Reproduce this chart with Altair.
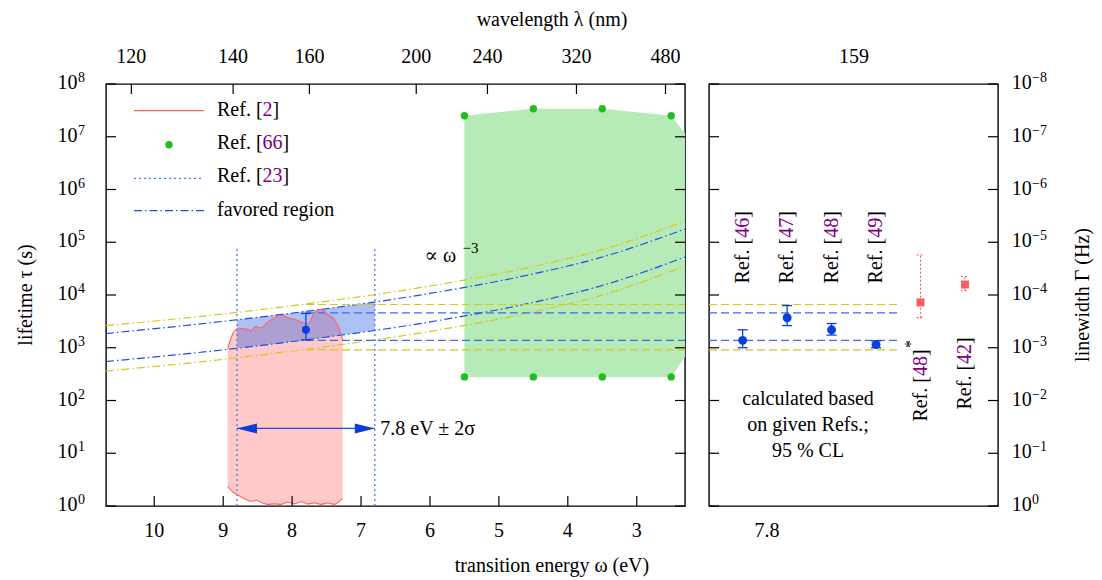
import altair as alt
import pandas as pd

# ============================================================ data
energy_ticks = [10, 9, 8, 7, 6, 5, 4, 3]                  # eV, bottom axis
wavelength_ticks = [120, 140, 160, 200, 240, 320, 480]    # nm, top axis
decade_exponents = [0, 1, 2, 3, 4, 5, 6, 7, 8]            # lifetime decades

# Ref. [2] band (log10 of lifetime in s)
red_energy = [8.935, 8.863, 8.790, 8.694, 8.597, 8.524, 8.452, 8.354, 8.258, 8.161,
              8.064, 7.968, 7.871, 7.774, 7.677, 7.580, 7.483, 7.387, 7.314, 7.266]
red_upper_log = [2.98, 3.26, 3.36, 3.36, 3.33, 3.40, 3.38, 3.49, 3.56, 3.62,
                 3.57, 3.54, 3.49, 3.45, 3.66, 3.73, 3.63, 3.54, 3.35, 3.15]
red_lower_log = [0.37, 0.27, 0.21, 0.14, 0.09, 0.11, 0.07, 0.03, 0.04, 0.03,
                 0.07, 0.04, 0.08, 0.04, 0.06, 0.03, 0.06, 0.03, 0.09, 0.14]

# Ref. [66]
green_energy = [5.5, 4.5, 3.5, 2.5]
green_upper = [2.5e7, 3.4e7, 3.4e7, 2.5e7]
green_lower = [280, 280, 280, 280]
green_edge_energy = [2.3]
green_edge_upper = [1.15e7]
green_edge_lower = [680]

# Ref. [23]: 7.8 eV +- 2 sigma
ref23_center = 7.8
ref23_limits = [8.8, 6.8]
ref23_line_top = 8.0e4
arrow_tau = 29.5

# omega^-3 lines (log10 of lifetime)
curve_energy = [10.7, 9.0, 7.8, 6.0, 4.5, 3.5, 2.3]
yellow_upper_log = [3.42, 3.64, 3.83, 4.17, 4.54, 4.86, 5.40]
blue_upper_log = [3.27, 3.50, 3.69, 4.03, 4.40, 4.72, 5.25]
blue_lower_log = [2.74, 2.96, 3.15, 3.49, 3.86, 4.18, 4.72]
yellow_lower_log = [2.56, 2.78, 2.97, 3.31, 3.68, 4.00, 4.55]

# favored region (filled band)
favored_energy = [8.8, 7.8, 6.8]
favored_upper = [3400, 4900, 7400]
favored_lower = [980, 1410, 2140]

# combined value at 7.8 eV
mean_tau = [2190]
mean_lo = [1410]
mean_hi = [4470]

# horizontal levels
level_tau = [6600, 4570, 1380, 910]
level_kind = ["yellow dashed", "blue dashed", "blue dashed", "yellow dashed"]

# right panel
ref_numbers = ["46", "47", "48", "49", "48", "42"]
blue_tau = [1380, 3700, 2190, 1150]
blue_lo = [1000, 2630, 1740, 1000]
blue_hi = [2190, 6310, 2880, 1350]
red_tau = [7240, 15800]
red_lo = [3720, 12000]
red_hi = [57500, 22400]

# ============================================================ style
FONT = "Liberation Serif, DejaVu Serif, serif"
FS = 20
W1, W2, H = 579, 289, 422
PURPLE = "#800080"
RED_LINE = "#ff6262"
RED_FILL = "#ffc9c9"
GREEN_FILL = "#b6eab6"
GREEN = "#22bb22"
BLUE_FILL = "#2a5be6"
BLUE_PT = "#0b3fdc"
BLUE_DD = "#1a4fe6"
BLUE_DASH = "#3c6ee6"
DOT_BLUE = "#4a7bea"
YELLOW = "#d4c81c"
RED_PT = "#ff5c5c"
DASHDOT = [8, 3, 1.5, 3]
DASH = [8, 4]
DOT = [2, 3]

XL = alt.Scale(domain=[2.3, 10.7], reverse=True, nice=False, zero=False)
XR = alt.Scale(domain=[-0.757, 5.743], nice=False, zero=False)
YS = alt.Scale(type="log", domain=[1, 1e8], nice=False)
KIND = alt.Scale(domain=["yellow dashdot", "blue dashdot", "yellow dashed", "blue dashed"],
                 range=[YELLOW, BLUE_DD, YELLOW, BLUE_DASH])
ONE = pd.DataFrame({"k": [0]})
CHARW = {"R": .667, "e": .444, "f": .333, ".": .25, " ": .25, "[": .333, "]": .333}


def tw(s, size=FS):
    return sum(CHARW.get(c, .5) for c in s) * size


def X(f, sc=XL):
    return alt.X(f"{f}:Q", scale=sc, axis=None)


def Y(f="tau"):
    return alt.Y(f"{f}:Q", scale=YS, axis=None)


def label(text, x, y, size=FS, color="black", align="left", baseline="alphabetic", angle=0):
    return alt.Chart(ONE).mark_text(text=text, fontSize=size, color=color, align=align,
                                    baseline=baseline, angle=angle, font=FONT).encode(
        x=alt.value(x), y=alt.value(y))


def rich(parts, x, y):
    out = []
    cx = x
    for t, c in parts:
        out.append(label(t, cx, y, color=c))
        cx += tw(t)
    return out


CAP = "M-1,0L1,0"

# ============================================================ left panel
green_df = pd.DataFrame({"E": green_energy + green_edge_energy,
                         "top": green_upper + green_edge_upper,
                         "bot": green_lower + green_edge_lower})
green_area = alt.Chart(green_df).mark_area(color=GREEN_FILL, opacity=1).encode(
    x=X("E"), y=Y("top"), y2="bot:Q")

red_df = pd.DataFrame({"E": red_energy,
                       "top": [10 ** v for v in red_upper_log],
                       "bot": [10 ** v for v in red_lower_log]})
red_area = alt.Chart(red_df).mark_area(color=RED_FILL, opacity=1, interpolate="monotone").encode(
    x=X("E"), y=Y("top"), y2="bot:Q")
red_edge_df = pd.concat([
    pd.DataFrame({"E": red_energy, "tau": red_df["top"], "edge": "top"}),
    pd.DataFrame({"E": red_energy, "tau": red_df["bot"], "edge": "bot"})])
red_edges = alt.Chart(red_edge_df).mark_line(color=RED_LINE, strokeWidth=1.1,
                                             interpolate="monotone").encode(
    x=X("E"), y=Y(), detail="edge:N")

fav_df = pd.DataFrame({"E": favored_energy, "top": favored_upper, "bot": favored_lower})
fav_area = alt.Chart(fav_df).mark_area(color=BLUE_FILL, opacity=0.38, interpolate="monotone").encode(
    x=X("E"), y=Y("top"), y2="bot:Q")

curve_rows = []
for name, kind, vals in [("yu", "yellow dashdot", yellow_upper_log),
                         ("bu", "blue dashdot", blue_upper_log),
                         ("bl", "blue dashdot", blue_lower_log),
                         ("yl", "yellow dashdot", yellow_lower_log)]:
    for e, v in zip(curve_energy, vals):
        curve_rows.append({"E": e, "tau": 10 ** v, "series": name, "kind": kind})
curves = alt.Chart(pd.DataFrame(curve_rows)).mark_line(
    strokeDash=DASHDOT, strokeWidth=1.2, interpolate="monotone").encode(
    x=X("E"), y=Y(), detail="series:N",
    color=alt.Color("kind:N", scale=KIND, legend=None))

lev_left_df = pd.DataFrame({"a": ref23_center, "b": 2.3, "tau": level_tau, "kind": level_kind})
levels_left = alt.Chart(lev_left_df).mark_rule(strokeDash=DASH, strokeWidth=1.2).encode(
    x=X("a"), x2="b:Q", y=Y(), color=alt.Color("kind:N", scale=KIND, legend=None))

ref23_df = pd.DataFrame({"E": ref23_limits, "lo": 1.0, "hi": ref23_line_top})
ref23_lines = alt.Chart(ref23_df).mark_rule(strokeDash=DOT, color=DOT_BLUE, strokeWidth=1.3).encode(
    x=X("E"), y=Y("lo"), y2="hi:Q")

arrow_df = pd.DataFrame({"a": [ref23_limits[0]], "b": [ref23_limits[1]], "tau": [arrow_tau]})
arrow_line = alt.Chart(arrow_df).mark_rule(color=BLUE_DD, strokeWidth=1.2).encode(
    x=X("a"), x2="b:Q", y=Y())
arrow_l = alt.Chart(arrow_df).mark_point(shape="M0,0L2,-0.5L2,0.5Z", size=400, filled=True,
                                         color=BLUE_PT, opacity=1).encode(x=X("a"), y=Y())
arrow_r = alt.Chart(arrow_df).mark_point(shape="M0,0L-2,-0.5L-2,0.5Z", size=400, filled=True,
                                         color=BLUE_PT, opacity=1).encode(x=X("b"), y=Y())
arrow_txt = alt.Chart(pd.DataFrame({"E": [6.72], "tau": [10 ** 1.465]})).mark_text(
    text="7.8 eV ± 2σ", font=FONT, fontSize=FS, align="left", baseline="middle").encode(
    x=X("E"), y=Y())

mean_df = pd.DataFrame({"E": [ref23_center], "tau": mean_tau, "lo": mean_lo, "hi": mean_hi})
mean_bar = alt.Chart(mean_df).mark_rule(color=BLUE_PT, strokeWidth=1.3).encode(
    x=X("E"), y=Y("lo"), y2="hi:Q")
mean_caps = alt.Chart(pd.DataFrame({"E": [ref23_center] * 2, "tau": mean_lo + mean_hi})).mark_point(
    shape=CAP, size=100, filled=False, color=BLUE_PT, strokeWidth=1.3, opacity=1).encode(
    x=X("E"), y=Y())
mean_pt = alt.Chart(mean_df).mark_circle(size=65, color=BLUE_PT, opacity=1).encode(x=X("E"), y=Y())

green_pts_df = pd.DataFrame({"E": green_energy * 2, "tau": green_upper + green_lower})
green_pts = alt.Chart(green_pts_df).mark_circle(size=55, color=GREEN, opacity=1).encode(
    x=X("E"), y=Y())

omega_df = pd.DataFrame({"E": [6.08], "tau": [10 ** 4.73]})
omega_txt = alt.Chart(omega_df).mark_text(text="∝ ω", font=FONT, fontSize=FS, align="left",
                                          baseline="middle").encode(x=X("E"), y=Y())
omega_exp = alt.Chart(omega_df).mark_text(text="−3", font=FONT, fontSize=15, align="left",
                                          baseline="middle", dx=38, dy=-8).encode(x=X("E"), y=Y())

# legend
legend = [
    alt.Chart(ONE).mark_rule(color=RED_LINE, strokeWidth=1.2).encode(
        x=alt.value(28), x2=alt.value(98), y=alt.value(26.7)),
    alt.Chart(ONE).mark_circle(size=55, color=GREEN, opacity=1).encode(
        x=alt.value(63), y=alt.value(60.7)),
    alt.Chart(ONE).mark_rule(color=DOT_BLUE, strokeWidth=1.3, strokeDash=DOT).encode(
        x=alt.value(28), x2=alt.value(98), y=alt.value(94.3)),
    alt.Chart(ONE).mark_rule(color=BLUE_DD, strokeWidth=1.3, strokeDash=DASHDOT).encode(
        x=alt.value(28), x2=alt.value(98), y=alt.value(126.7)),
]
legend += rich([("Ref. [", "black"), ("2", PURPLE), ("]", "black")], 111, 31.5)
legend += rich([("Ref. [", "black"), ("66", PURPLE), ("]", "black")], 111, 65.0)
legend += rich([("Ref. [", "black"), ("23", PURPLE), ("]", "black")], 111, 98.0)
legend += [label("favored region", 111, 131.7)]

# axes of left panel (ticks inward, labels as text)
dec_df = pd.DataFrame({"tau": [10.0 ** d for d in decade_exponents],
                       "e": [str(d) for d in decade_exponents],
                       "er": ["0" if d == 0 else "−" + str(d) for d in decade_exponents]})
en_df = pd.DataFrame({"E": energy_ticks, "lab": [str(v) for v in energy_ticks]})
wl_df = pd.DataFrame({"E": [1239.84 / w for w in wavelength_ticks],
                      "lab": [str(w) for w in wavelength_ticks]})

left_axes = [
    alt.Chart(dec_df).mark_rule(color="black", strokeWidth=1.2).encode(
        x=alt.value(0), x2=alt.value(10), y=Y()),
    alt.Chart(dec_df).mark_rule(color="black", strokeWidth=1.2).encode(
        x=alt.value(W1 - 10), x2=alt.value(W1), y=Y()),
    alt.Chart(en_df).mark_rule(color="black", strokeWidth=1.2).encode(
        x=X("E"), y=alt.value(H), y2=alt.value(H - 10)),
    alt.Chart(wl_df).mark_rule(color="black", strokeWidth=1.2).encode(
        x=X("E"), y=alt.value(0), y2=alt.value(10)),
    alt.Chart(en_df).mark_text(font=FONT, fontSize=FS, align="center", baseline="alphabetic").encode(
        x=X("E"), y=alt.value(H + 31), text="lab:N"),
    alt.Chart(wl_df).mark_text(font=FONT, fontSize=FS, align="center", baseline="alphabetic").encode(
        x=X("E"), y=alt.value(-21.5), text="lab:N"),
    alt.Chart(dec_df).mark_text(text="10", font=FONT, fontSize=FS, align="right",
                                baseline="alphabetic", dy=5).encode(x=alt.value(-28.5), y=Y()),
    alt.Chart(dec_df).mark_text(font=FONT, fontSize=14, align="left",
                                baseline="alphabetic", dy=-2).encode(x=alt.value(-28), y=Y(), text="e:N"),
    label("lifetime τ (s)", -80, H / 2, align="center", baseline="middle", angle=270),
    label("wavelength λ (nm)", 446, -58.5, align="center"),
    label("transition energy ω (eV)", 446, H + 66, align="center"),
]

left = alt.layer(
    green_area, red_area, fav_area, curves, levels_left, ref23_lines, red_edges,
    arrow_line, arrow_l, arrow_r, mean_bar, mean_caps, mean_pt, green_pts,
    omega_txt, omega_exp, arrow_txt, *legend, *left_axes
).properties(width=W1, height=H)

# ============================================================ right panel
lev_right_df = pd.DataFrame({"a": -0.757, "b": 3.5, "tau": level_tau, "kind": level_kind})
levels_right = alt.Chart(lev_right_df).mark_rule(strokeDash=DASH, strokeWidth=1.2).encode(
    x=X("a", XR), x2="b:Q", y=Y(), color=alt.Color("kind:N", scale=KIND, legend=None))

bdf = pd.DataFrame({"i": [0, 1, 2, 3], "tau": blue_tau, "lo": blue_lo, "hi": blue_hi})
bcap = pd.DataFrame({"i": [0, 1, 2, 3] * 2, "tau": blue_lo + blue_hi})
rdf = pd.DataFrame({"i": [4, 5], "tau": red_tau, "lo": red_lo, "hi": red_hi})
rcap = pd.DataFrame({"i": [4, 5] * 2, "tau": red_lo + red_hi})

blue_bars = alt.Chart(bdf).mark_rule(color=BLUE_PT, strokeWidth=1.3).encode(
    x=X("i", XR), y=Y("lo"), y2="hi:Q")
blue_caps = alt.Chart(bcap).mark_point(shape=CAP, size=100, filled=False, color=BLUE_PT,
                                       strokeWidth=1.3, opacity=1).encode(x=X("i", XR), y=Y())
blue_pts = alt.Chart(bdf).mark_circle(size=80, color=BLUE_PT, opacity=1).encode(x=X("i", XR), y=Y())
red_bars = alt.Chart(rdf).mark_rule(color=RED_PT, strokeWidth=1.1, strokeDash=[2, 2]).encode(
    x=X("i", XR), y=Y("lo"), y2="hi:Q")
red_caps = alt.Chart(rcap).mark_point(shape=CAP, size=64, filled=False, color=RED_PT,
                                      strokeWidth=1.1, strokeDash=[2, 2], opacity=1).encode(
    x=X("i", XR), y=Y())
red_pts = alt.Chart(rdf).mark_square(size=64, color=RED_PT, opacity=1).encode(x=X("i", XR), y=Y())

lab_df = pd.DataFrame({"i": list(range(6)), "num": ref_numbers,
                       "tau": [10 ** 4.22] * 4 + [10 ** 1.60, 10 ** 1.83]})
star_df = lab_df.iloc[[4]]
pre_w = tw("Ref. [")
rot = dict(font=FONT, fontSize=FS, angle=270, align="left", baseline="middle")
ref_labels = [
    alt.Chart(lab_df).mark_text(text="Ref. [", color="black", **rot).encode(x=X("i", XR), y=Y()),
    alt.Chart(lab_df).mark_text(color=PURPLE, dx=pre_w, **rot).encode(x=X("i", XR), y=Y(), text="num:N"),
    alt.Chart(lab_df).mark_text(text="]", color="black", dx=pre_w + 20, **rot).encode(x=X("i", XR), y=Y()),
    alt.Chart(star_df).mark_text(text="*", color="black", font=FONT, fontSize=16, angle=270,
                                 align="left", baseline="middle", dx=pre_w + 28, dy=-10).encode(
        x=X("i", XR), y=Y()),
]

calc_txt = alt.Chart(pd.DataFrame({"i": [1.47], "tau": [10 ** 1.92]})).mark_text(
    text="calculated based\non given Refs.;\n95 % CL", lineBreak="\n", lineHeight=26,
    font=FONT, fontSize=FS, align="center", baseline="alphabetic").encode(x=X("i", XR), y=Y())

right_axes = [
    alt.Chart(dec_df).mark_rule(color="black", strokeWidth=1.2).encode(
        x=alt.value(0), x2=alt.value(10), y=Y()),
    alt.Chart(dec_df).mark_rule(color="black", strokeWidth=1.2).encode(
        x=alt.value(W2 - 10), x2=alt.value(W2), y=Y()),
    alt.Chart(dec_df).mark_text(text="10", font=FONT, fontSize=FS, align="left",
                                baseline="alphabetic", dy=5).encode(x=alt.value(W2 + 13.7), y=Y()),
    alt.Chart(dec_df).mark_text(font=FONT, fontSize=14, align="left",
                                baseline="alphabetic", dy=-2).encode(x=alt.value(W2 + 34), y=Y(), text="er:N"),
    label("linewidth Γ (Hz)", W2 + 85, H / 2, align="center", baseline="middle", angle=270),
    label("7.8", 58, H + 31, align="center"),
    label("159", 145, -21.5, align="center"),
]

right = alt.layer(
    levels_right, blue_bars, blue_caps, blue_pts, red_bars, red_caps, red_pts,
    *ref_labels, calc_txt, *right_axes
).properties(width=W2, height=H)

chart = alt.hconcat(left, right, spacing=24, bounds="flush",
                    padding={"left": 7, "top": 0, "right": 0, "bottom": 0}
                    ).configure_view(stroke="black", strokeWidth=1.4
                    ).configure_text(font=FONT)

chart.save("out.html", embed_options={"renderer": "svg", "actions": False})
